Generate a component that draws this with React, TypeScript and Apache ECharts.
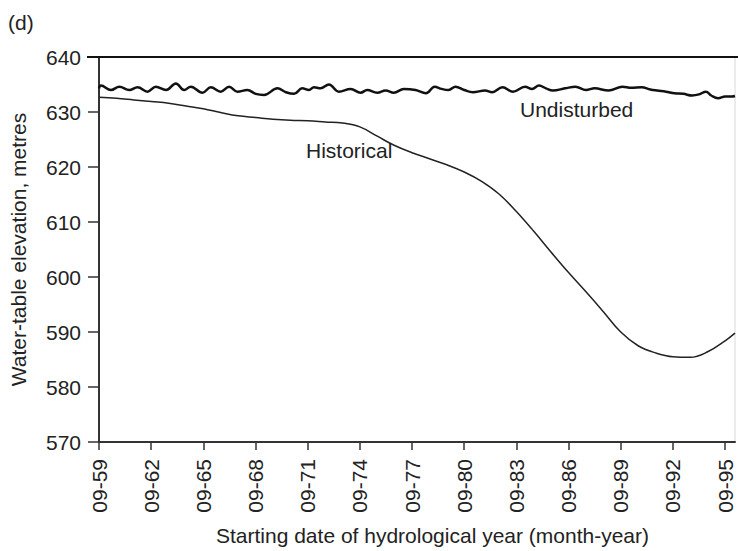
import React, { useEffect, useRef } from "react";
import * as echarts from "echarts";

// Years since September 1959 (x) and water-table elevation in metres (y)
const historicalYears = [0, 1, 2, 3, 4, 5, 6, 7, 8, 9, 10, 11, 12, 13, 14, 15, 16, 17, 18, 19, 20, 21, 22, 23, 24, 25, 26, 27, 28, 29, 30, 31, 32, 33, 34, 35, 36, 36.57];
const historicalLevels = [632.7, 632.5, 632.2, 631.9, 631.6, 631.1, 630.6, 629.9, 629.3, 629.0, 628.7, 628.5, 628.4, 628.2, 628.0, 627.3, 625.6, 623.9, 622.6, 621.5, 620.4, 619.1, 617.4, 615.1, 611.9, 608.3, 604.5, 600.8, 597.3, 593.7, 590.0, 587.5, 586.2, 585.5, 585.4, 586.4, 588.4, 589.8];

const undisturbedYears = [0, 0.11, 0.69, 1.17, 1.74, 2.22, 2.79, 3.27, 3.85, 4.42, 4.9, 5.28, 5.95, 6.43, 7.0, 7.48, 7.96, 8.53, 9.01, 9.49, 10.26, 10.75, 11.21, 11.69, 12.07, 12.36, 12.74, 13.22, 13.79, 14.47, 15.04, 15.42, 16.0, 16.48, 16.95, 17.53, 18.2, 18.8, 19.3, 19.7, 20.1, 20.5, 21.0, 21.5, 22.2, 22.6, 23.2, 23.8, 24.5, 24.9, 25.3, 25.7, 26.1, 26.8, 27.4, 28.0, 28.5, 29.3, 30.1, 30.6, 31.2, 31.7, 32.1, 32.6, 33.1, 33.6, 34.1, 34.5, 34.9, 35.2, 35.6, 36.0, 36.4, 36.57];
const undisturbedLevels = [634.3, 634.8, 634.0, 634.6, 634.0, 634.5, 633.7, 634.6, 634.0, 635.2, 634.0, 634.6, 633.5, 634.5, 633.7, 634.6, 633.7, 634.0, 633.3, 633.1, 634.3, 633.6, 633.3, 634.3, 634.0, 634.5, 634.3, 635.0, 633.7, 634.2, 633.5, 634.0, 633.5, 633.9, 633.5, 634.2, 634.0, 633.4, 634.6, 634.2, 634.0, 634.6, 634.0, 633.6, 633.9, 633.6, 634.5, 633.7, 634.6, 634.2, 634.8, 634.3, 633.9, 634.3, 634.6, 634.0, 634.3, 633.9, 634.6, 634.4, 634.5, 634.1, 633.9, 633.7, 633.4, 633.3, 633.0, 633.2, 633.7, 633.0, 632.5, 632.8, 632.8, 632.9];

const xTickValues = [0, 3, 6, 9, 12, 15, 18, 21, 24, 27, 30, 33, 36];
const xTickLabels = ["09-59", "09-62", "09-65", "09-68", "09-71", "09-74", "09-77", "09-80", "09-83", "09-86", "09-89", "09-92", "09-95"];

const FONT = "'Liberation Sans', Arial, Helvetica, sans-serif";

export default function App() {
  const ref = useRef<HTMLDivElement>(null);

  useEffect(() => {
    if (!ref.current) return;
    const chart = echarts.init(ref.current, null, { renderer: "svg" });
    const historical = historicalYears.map((x, i) => [x, historicalLevels[i]]);
    const undisturbed = undisturbedYears.map((x, i) => [x, undisturbedLevels[i]]);

    chart.setOption({
      animation: false,
      backgroundColor: "#ffffff",
      textStyle: { fontFamily: FONT },
      grid: {
        left: 98,
        right: 3,
        top: 57,
        bottom: 106,
        show: true,
        borderColor: "#d8d8d8",
        borderWidth: 1,
        backgroundColor: "transparent",
      },
      xAxis: {
        type: "value",
        min: 0,
        max: 36.57,
        interval: 3,
        name: "Starting date of hydrological year (month-year)",
        nameLocation: "middle",
        nameGap: 83,
        nameTextStyle: { fontSize: 21, color: "#222", fontFamily: FONT, padding: [0, 0, 0, 31] },
        axisLine: { onZero: false, lineStyle: { color: "#333", width: 2 } },
        axisTick: { show: true, length: 8, customValues: xTickValues, lineStyle: { color: "#333", width: 1.5 } },
        axisLabel: {
          customValues: xTickValues,
          rotate: 90,
          margin: 17,
          fontSize: 21,
          color: "#222",
          fontFamily: FONT,
          formatter: (v: number) => {
            const idx = xTickValues.indexOf(Math.round(v));
            return idx >= 0 && Math.abs(v - Math.round(v)) < 1e-6 ? xTickLabels[idx] : "";
          },
        },
        splitLine: { show: false },
      },
      yAxis: {
        type: "value",
        min: 570,
        max: 640,
        interval: 10,
        name: "Water-table elevation, metres",
        nameLocation: "middle",
        nameGap: 70,
        nameTextStyle: { fontSize: 21, color: "#222", fontFamily: FONT },
        axisLine: { show: true, lineStyle: { color: "#333", width: 2 } },
        axisTick: { show: true, length: 11, lineStyle: { color: "#333", width: 1.5 } },
        axisLabel: { margin: 18, fontSize: 21, color: "#222", fontFamily: FONT },
        splitLine: { show: false },
      },
      graphic: [
        {
          type: "line",
          shape: { x1: 87, y1: 57, x2: 738, y2: 57 },
          style: { stroke: "#111", lineWidth: 2 },
          z: 100,
        },
        {
          type: "text",
          left: 8,
          top: 12,
          style: { text: "(d)", fontSize: 21, fill: "#222", fontFamily: FONT },
        },
        {
          type: "text",
          left: 306,
          top: 140,
          style: { text: "Historical", fontSize: 21, fill: "#222", fontFamily: FONT },
        },
        {
          type: "text",
          left: 520,
          top: 99,
          style: { text: "Undisturbed", fontSize: 21, fill: "#222", fontFamily: FONT },
        },
      ],
      series: [
        {
          name: "Undisturbed",
          type: "line",
          data: undisturbed,
          smooth: 0.4,
          symbol: "none",
          lineStyle: { color: "#111", width: 2.5 },
        },
        {
          name: "Historical",
          type: "line",
          data: historical,
          smooth: 0.4,
          symbol: "none",
          lineStyle: { color: "#222", width: 1.5 },
        },
      ],
    });

    return () => chart.dispose();
  }, []);

  return (
    <div
      ref={ref}
      style={{ position: "fixed", left: 0, top: 0, width: 738, height: 551, background: "#fff" }}
    />
  );
}
